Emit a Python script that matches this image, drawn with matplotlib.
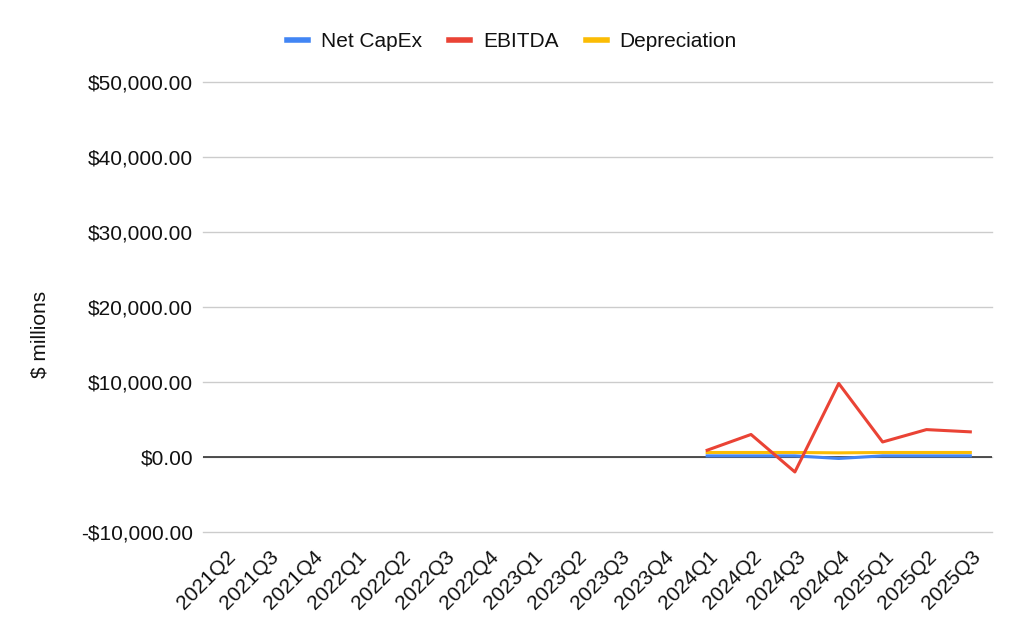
import matplotlib
matplotlib.use("Agg")
import matplotlib.pyplot as plt
import matplotlib.transforms as mtransforms
import numpy as np

plt.rcParams['font.family'] = ['Liberation Sans', 'DejaVu Sans']

quarters = ["2021Q2", "2021Q3", "2021Q4", "2022Q1", "2022Q2", "2022Q3", "2022Q4",
            "2023Q1", "2023Q2", "2023Q3", "2023Q4", "2024Q1", "2024Q2", "2024Q3",
            "2024Q4", "2025Q1", "2025Q2", "2025Q3"]
nan = np.nan
net_capex = [nan] * 11 + [150, 150, 150, -200, 150, 150, 150]
ebitda = [nan] * 11 + [900, 3000, -2000, 9800, 2000, 3650, 3350]
depreciation = [nan] * 11 + [600, 600, 600, 550, 600, 600, 600]

y_ticks = [-10000, 0, 10000, 20000, 30000, 40000, 50000]

FS = 15
TXT = "#111111"

fig = plt.figure(figsize=(10.24, 6.33), dpi=100)
ax = fig.add_axes([0.198, 0.1596, 0.771, 0.7109])

x = np.arange(len(quarters))
ax.plot(x, net_capex, color="#4285F4", lw=2.2, label="Net CapEx", zorder=3)
ax.plot(x, ebitda, color="#EA4335", lw=2.2, label="EBITDA", zorder=4)
ax.plot(x, depreciation, color="#FBBC04", lw=2.2, label="Depreciation", zorder=3)

ax.set_xlim(-0.5, len(quarters) - 0.5)
ax.set_ylim(-10000, 50000)
ax.set_yticks(y_ticks)
ax.set_yticklabels([("-$" if v < 0 else "$") + f"{abs(v):,.2f}" for v in y_ticks])
ax.set_xticks(x)
ax.set_xticklabels(quarters, rotation=45, ha="right", rotation_mode="anchor")
ax.tick_params(axis="both", length=0, labelsize=FS, colors=TXT)
ax.tick_params(axis="y", pad=7)
ax.tick_params(axis="x", pad=11)
offset = mtransforms.ScaledTranslation(1 / 100, 0, fig.dpi_scale_trans)
for lbl in ax.get_xticklabels():
    lbl.set_transform(lbl.get_transform() + offset)
ax.grid(axis="y", color="#cccccc", lw=1)
for gl in ax.get_ygridlines():
    gl.set_clip_on(False)
ax.axhline(0, color="#333333", lw=1.2, zorder=2)
for s in ax.spines.values():
    s.set_visible(False)
ax.set_ylabel("$ millions", fontsize=FS, color=TXT)
ax.yaxis.set_label_coords(-0.1936, 0.438)

leg = fig.legend(loc="center", bbox_to_anchor=(0.50, 0.934), ncol=3, frameon=False,
                 fontsize=FS, handlelength=1.0, handletextpad=0.63, columnspacing=1.3)
for h in leg.get_lines():
    h.set_linewidth(4)
for t in leg.get_texts():
    t.set_color(TXT)

fig.savefig("out.png", dpi=100)
